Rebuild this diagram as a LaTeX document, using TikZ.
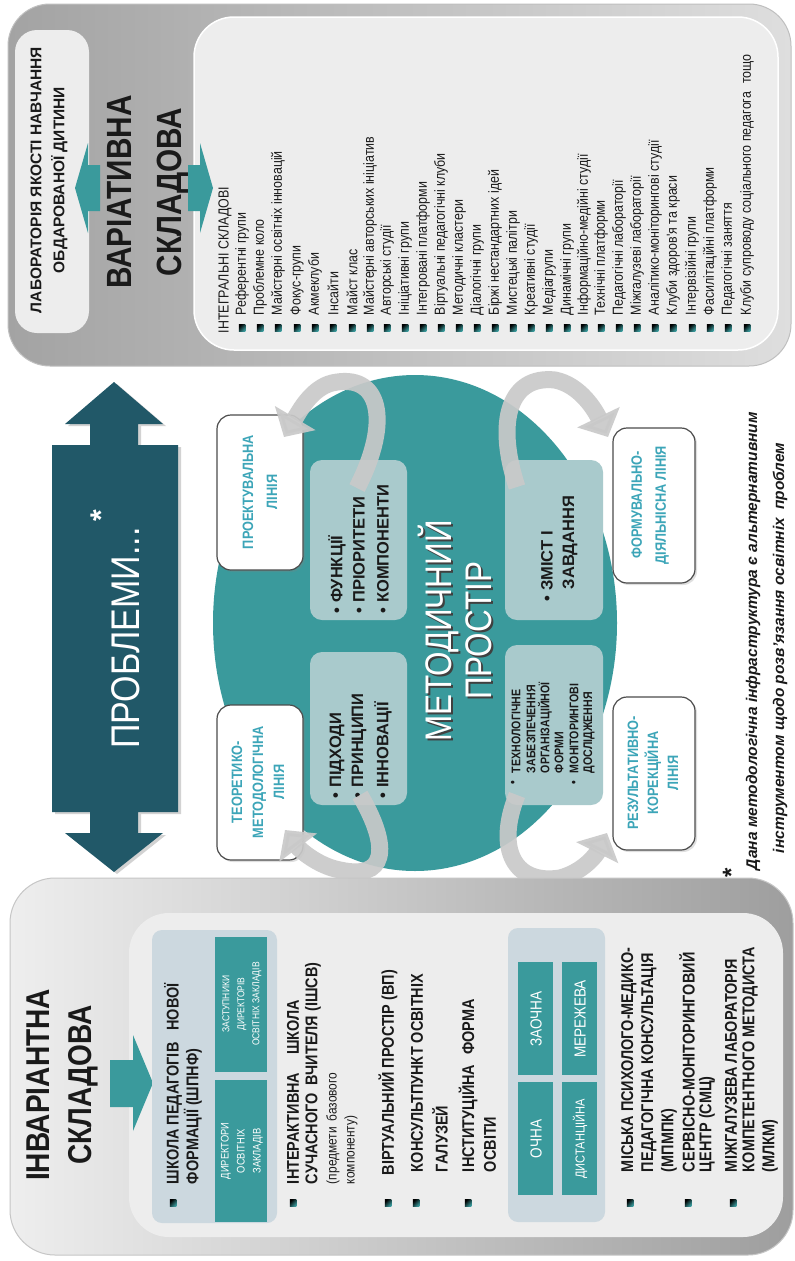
\documentclass[tikz,border=0pt]{standalone}
\usepackage{fontspec}
\setmainfont{Liberation Sans}
\newfontfamily\nar[FakeStretch=0.85]{Liberation Sans}
\usetikzlibrary{arrows.meta,shadows}
\definecolor{tealA}{HTML}{3A9A9C}
\definecolor{tealT}{HTML}{3CA5B8}
\definecolor{navyA}{HTML}{215868}
\definecolor{subbx}{HTML}{CCD8DF}
\definecolor{inbx}{HTML}{EDEDED}
\definecolor{lbox}{HTML}{A9CACC}
\definecolor{garr}{HTML}{C9C9C9}
\definecolor{txt}{HTML}{1A1A1A}
\definecolor{varL}{HTML}{A3A3A3}
\definecolor{varR}{HTML}{DEDEDE}
\definecolor{invL}{HTML}{EEEEEE}
\definecolor{invR}{HTML}{9E9E9E}
\begin{document}
\begin{tikzpicture}[x=1pt,y=-1pt,
 rt/.style={rotate=90,inner sep=0pt,outer sep=0pt},
 sqb/.style={rectangle,minimum size=6.5pt,inner sep=0pt,left color=black,right color=tealA,shading angle=45},
 vit/.style={rt,anchor=west,font=\nar\fontsize{14.6}{15}\selectfont,text=txt},
 iit/.style={rt,anchor=west,font=\nar\bfseries\fontsize{17}{20}\selectfont,text=txt},
 linebox/.style={draw=black!70,line width=1.2pt,fill=white,rounded corners=14pt,drop shadow={opacity=0.25,shadow xshift=2pt,shadow yshift=-2pt}},
 lintxt/.style={rt,align=center,text=tealT,font=\nar\bfseries\fontsize{15}{22}\selectfont},
 ibox/.style={fill=lbox,rounded corners=12pt},
 itx/.style={rt,anchor=west,font=\bfseries\fontsize{16.5}{18}\selectfont,text=txt},
 dtx/.style={rt,anchor=west,font=\nar\bfseries\fontsize{12.5}{14}\selectfont,text=txt},
 cell/.style={fill=tealA},
 celltx/.style={rt,align=center,text=white},
 garrow/.style={line width=17pt,draw=garr,opacity=0.92,-{Triangle[length=22pt,width=46pt]}},
]
\useasboundingbox (0,0) rectangle (795,1261);
\fill[white] (0,0) rectangle (795,1261);

% ===== Variative component =====
\shade[left color=varL,right color=varR,rounded corners=42pt] (8,4) rectangle (791,366);
\draw[gray!50,line width=1pt,rounded corners=42pt] (8,4) rectangle (791,366);
\fill[inbx,rounded corners=22pt] (15,30) rectangle (89,333);
\draw[white,line width=1.5pt,fill=inbx,rounded corners=40pt] (194,17) rectangle (778,350);
\node[rt,align=center,text=txt,font=\bfseries\fontsize{15.5}{23}\selectfont] (lab) at (49,180) {ЛАБОРАТОРІЯ ЯКОСТІ НАВЧАННЯ\\ОБДАРОВАНОЇ ДИТИНИ};
\node[rt,align=center,text=txt,font=\nar\bfseries\fontsize{35}{50}\selectfont] (vart) at (148,192) {ВАРІАТИВНА\\СКЛАДОВА};
\fill[tealA] (75,188) -- (88,143) -- (88,165) -- (100,165) -- (100,211) -- (88,211) -- (88,233) -- cycle;
\fill[tealA] (213,188) -- (200,143) -- (200,165) -- (188,165) -- (188,211) -- (200,211) -- (200,233) -- cycle;
\node[vit] (vt0) at (225,333) {ІНТЕГРАЛЬНІ СКЛАДОВІ};
\foreach \x/\t [count=\i] in {242/Референтні групи,260/Проблемне коло,278/Майстерні освітніх інновацій,297/Фокус-групи,315/Акмеклуби,333/Інсайти,352/Майст клас,370/Майстерні авторських ініціатив,387/Авторські студії,405/Ініціативні групи,423/Інтегровані платформи,441/Віртуальні педагогічні клуби,459/Методичні кластери,477/Діалогічні групи,495/Біржі нестандартних ідей,513/Мистецькі палітри,531/Креативні студії,549/Медіагрупи,567/Динамічні групи,584/Інформаційно-медійні студії,601/Технічні платформи,619/Педагогічні лабораторії,637/Міжгалузеві лабораторії,655/Аналітико-моніторингові студії,673/Клуби здоров'я та краси,692/Інтервізійні групи,710/Фасилітаційні платформи,728/Педагогічні заняття,747/Клуби супроводу соціального педагога\hspace{8pt}тощо}
{\node[sqb] (vb\i) at (\x,328) {};
 \node[vit] (vt\i) at (\x,315) {\t};}

% ===== Problems arrow =====
\fill[navyA,drop shadow={opacity=0.35,shadow xshift=3pt,shadow yshift=-2pt}] (114,382) -- (163,424) -- (138,424) -- (138,445) -- (178,445) -- (178,812) -- (138,812) -- (138,833) -- (163,833) -- (114,872) -- (65,833) -- (90,833) -- (90,812) -- (52,812) -- (52,445) -- (90,445) -- (90,424) -- (65,424) -- cycle;
\node[rt,text=white,font=\nar\fontsize{40}{40}\selectfont] (prob) at (126,638) {ПРОБЛЕМИ...};
\node[rt,text=white,font=\bfseries\fontsize{30}{30}\selectfont] (probst) at (101,516) {*};

% ===== Methodical space =====
\fill[tealA] (415,623) ellipse [x radius=202pt,y radius=248pt];
\fill[ibox] (310,460) rectangle (407,620);
\fill[ibox] (310,652) rectangle (407,805);
\fill[ibox] (505,460) rectangle (603,620);
\fill[ibox] (505,645) rectangle (603,805);
\node[rt,align=center,text=black!75,font=\nar\fontsize{37}{40}\selectfont] (mps) at (457,633) {МЕТОДИЧНИЙ\\ПРОСТІР};
\node[rt,align=center,text=white,font=\nar\fontsize{37}{40}\selectfont] (mp) at (455,631) {МЕТОДИЧНИЙ\\ПРОСТІР};
\node[itx] (a1) at (337,613) {• ФУНКЦІЇ};
\node[itx] (a2) at (359,613) {• ПРІОРИТЕТИ};
\node[itx] (a3) at (383,613) {• КОМПОНЕНТИ};
\node[itx] (b1) at (337,798) {• ПІДХОДИ};
\node[itx] (b2) at (359,798) {• ПРИНЦИПИ};
\node[itx] (b3) at (383,798) {• ІННОВАЦІЇ};
\node[itx] (c1) at (547,601) {• ЗМІСТ І};
\node[itx] (c2) at (570,589) {ЗАВДАННЯ};
\node[dtx] (d0) at (514,784) {•};
\node[dtx] (d1) at (516,773) {ТЕХНОЛОГІЧНЕ};
\node[dtx] (d2) at (531,773) {ЗАБЕЗПЕЧЕННЯ};
\node[dtx] (d3) at (545,773) {ОРГАНІЗАЦІЙНОЇ};
\node[dtx] (d4) at (559,773) {ФОРМИ};
\node[dtx] (d5) at (575,784) {•};
\node[dtx] (d6) at (574,773) {МОНІТОРИНГОВІ};
\node[dtx] (d7) at (589,773) {ДОСЛІДЖЕННЯ};

\path[linebox] (217,415) rectangle (303,570);
\path[linebox] (217,705) rectangle (303,860);
\path[linebox] (613,428) rectangle (695,583);
\path[linebox] (613,697) rectangle (695,850);
\node[lintxt,font=\nar\bfseries\fontsize{15}{24}\selectfont] (l1) at (260,492) {ПРОЕКТУВАЛЬНА\\ЛІНІЯ};
\node[lintxt,font=\nar\bfseries\fontsize{15}{21}\selectfont] (l2) at (258,782) {ТЕОРЕТИКО-\\МЕТОДОЛОГІЧНА\\ЛІНІЯ};
\node[lintxt,font=\nar\bfseries\fontsize{15}{24}\selectfont] (l3) at (650,505) {ФОРМУВАЛЬНО-\\ДІЯЛЬНІСНА ЛІНІЯ};
\node[lintxt,font=\nar\bfseries\fontsize{15}{20}\selectfont] (l4) at (653,773) {РЕЗУЛЬТАТИВНО-\\КОРЕКЦІЙНА\\ЛІНІЯ};

\coordinate (g1s) at (357,488); \coordinate (g1e) at (284,437);
\coordinate (g2s) at (360,795); \coordinate (g2e) at (285,830);
\coordinate (g3s) at (517,487); \coordinate (g3e) at (608,437);
\coordinate (g4s) at (517,795); \coordinate (g4e) at (607,833);
\draw[garrow] (g1s) .. controls (392,420) and (380,372) .. (332,383) .. controls (312,388) and (300,410) .. (g1e);
\draw[garrow] (g2s) .. controls (392,850) and (385,880) .. (340,870) .. controls (318,866) and (300,850) .. (g2e);
\draw[garrow] (g3s) .. controls (495,420) and (510,375) .. (555,380) .. controls (580,385) and (595,410) .. (g3e);
\draw[garrow] (g4s) .. controls (495,850) and (515,885) .. (560,878) .. controls (583,872) and (596,855) .. (g4e);

% ===== Footnote =====
\node[rt,text=txt,font=\bfseries\fontsize{24}{24}\selectfont] (fst) at (731,873) {*};
\node[rt,anchor=west,text=txt,font=\bfseries\itshape\fontsize{15.5}{16}\selectfont] (fn1) at (753,870) {Дана методологічна інфраструктура є альтернативним};
\node[rt,anchor=west,text=txt,font=\bfseries\itshape\fontsize{15.5}{16}\selectfont] (fn2) at (780,853) {інструментом щодо розв’язання освітніх\hspace{8pt}проблем};

% ===== Invariant component =====
\shade[left color=invL,right color=invR,rounded corners=45pt] (10,878) rectangle (793,1255);
\draw[gray!45,line width=1pt,rounded corners=45pt] (10,878) rectangle (793,1255);
\fill[inbx,rounded corners=40pt] (129,913) rectangle (783,1237);
\node[rt,align=center,text=txt,font=\nar\bfseries\fontsize{33}{42}\selectfont] (invt) at (62,1085) {ІНВАРІАНТНА\\СКЛАДОВА};
\fill[tealA] (153,1083) -- (133,1035) -- (133,1060) -- (110,1060) -- (110,1107) -- (133,1107) -- (133,1131) -- cycle;
\fill[subbx,rounded corners=10pt] (152,930) rectangle (277,1223);
\fill[cell] (215,1080) rectangle (267,1222);
\fill[cell] (215,937) rectangle (267,1072);
\node[celltx,font=\nar\fontsize{11}{16}\selectfont] (dir) at (242,1151) {ДИРЕКТОРИ\\ОСВІТНІХ\\ЗАКЛАДІВ};
\node[celltx,font=\nar\fontsize{10}{15}\selectfont] (zast) at (242,1004) {ЗАСТУПНИКИ\\ДИРЕКТОРІВ\\ОСВІТНІХ ЗАКЛАДІВ};
\fill[subbx,rounded corners=10pt] (508,928) rectangle (605,1222);
\fill[cell] (518,1082) rectangle (553,1195);
\fill[cell] (518,962) rectangle (553,1075);
\fill[cell] (562,1082) rectangle (597,1195);
\fill[cell] (562,962) rectangle (597,1075);
\node[celltx,font=\nar\fontsize{16}{16}\selectfont] (och) at (536,1139) {ОЧНА};
\node[celltx,font=\nar\fontsize{16}{16}\selectfont] (zaoch) at (536,1019) {ЗАОЧНА};
\node[celltx,font=\nar\fontsize{13}{13}\selectfont] (dyst) at (580,1139) {ДИСТАНЦІЙНА};
\node[celltx,font=\nar\fontsize{16}{16}\selectfont] (mer) at (580,1019) {МЕРЕЖЕВА};
\foreach \x [count=\i] in {173,293,388,416,468,630,688,733}
 {\node[sqb] (ib\i) at (\x,1203) {};}
\node[iit] (i1) at (173,1184) {ШКОЛА ПЕДАГОГІВ\hspace{12pt}НОВОЇ};
\node[iit] (i2) at (193,1184) {ФОРМАЦІЇ (ШПНФ)};
\node[iit] (i3) at (293,1184) {ІНТЕРАКТИВНА\hspace{18pt}ШКОЛА};
\node[iit] (i4) at (313,1184) {СУЧАСНОГО\hspace{8pt}ВЧИТЕЛЯ (ІШСВ)};
\node[iit,font=\nar\fontsize{14}{16}\selectfont] (i5) at (333,1184) {(предмети\hspace{6pt}базового};
\node[iit,font=\nar\fontsize{14}{16}\selectfont] (i6) at (351,1184) {компоненту)};
\node[iit] (i7) at (388,1175) {ВІРТУАЛЬНИЙ ПРОСТІР (ВП)};
\node[iit] (i8) at (417,1172) {КОНСУЛЬТПУНКТ ОСВІТНІХ};
\node[iit] (i9) at (440,1172) {ГАЛУЗЕЙ};
\node[iit] (i10) at (468,1172) {ІНСТИТУЦІЙНА\hspace{10pt}ФОРМА};
\node[iit] (i11) at (490,1172) {ОСВІТИ};
\node[iit] (i12) at (629,1172) {МІСЬКА ПСИХОЛОГО-МЕДИКО-};
\node[iit] (i13) at (649,1172) {ПЕДАГОГІЧНА КОНСУЛЬТАЦІЯ};
\node[iit] (i14) at (669,1172) {(МПМПК)};
\node[iit] (i15) at (687,1172) {СЕРВІСНО-МОНІТОРИНГОВИЙ};
\node[iit] (i16) at (707,1172) {ЦЕНТР (СМЦ)};
\node[iit] (i17) at (731,1172) {МІЖГАЛУЗЕВА ЛАБОРАТОРІЯ};
\node[iit] (i18) at (750,1172) {КОМПЕТЕНТНОГО МЕТОДИСТА};
\node[iit] (i19) at (770,1172) {(МЛКМ)};
\end{tikzpicture}
\end{document}
